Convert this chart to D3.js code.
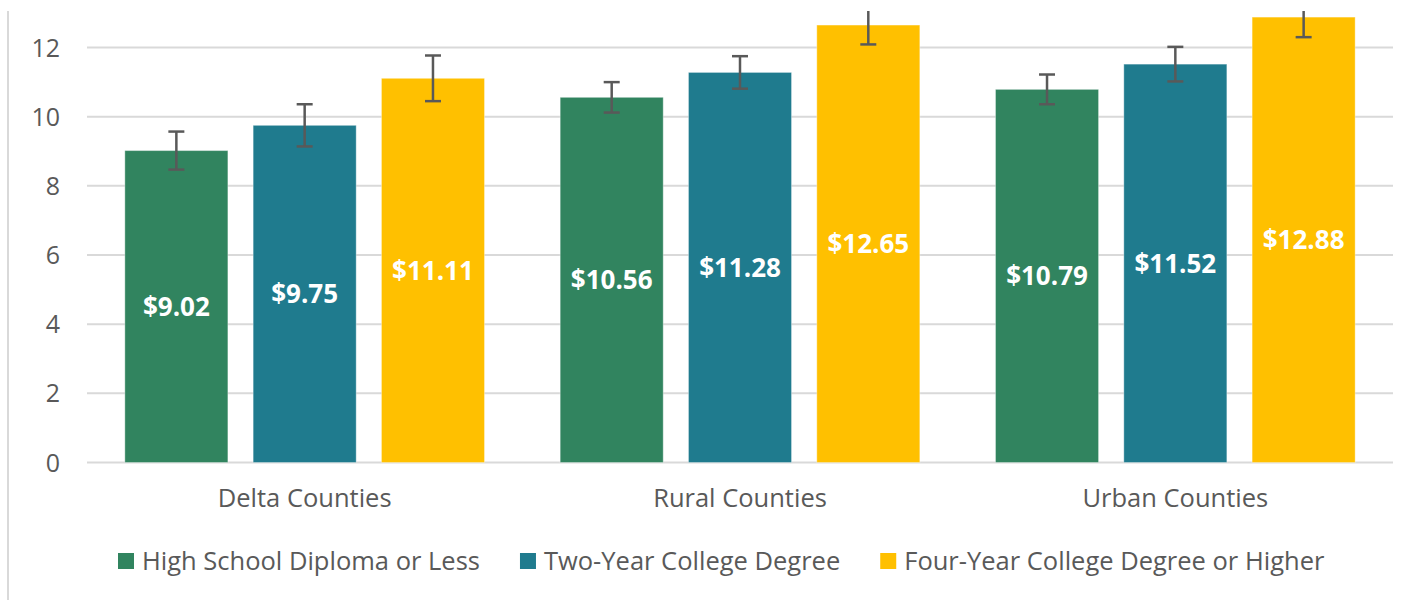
<!DOCTYPE html>
<html>
<head>
<meta charset="utf-8">
<script src="https://cdnjs.cloudflare.com/ajax/libs/d3/7.8.5/d3.min.js"></script>
<style>
  html, body { margin: 0; padding: 0; background: #ffffff; }
  svg { display: block; }
</style>
</head>
<body>
<svg id="chart" width="1421" height="600"></svg>
<script>
// ---- data ----
const categories = ["Delta Counties", "Rural Counties", "Urban Counties"];
const seriesNames = ["High School Diploma or Less", "Two-Year College Degree", "Four-Year College Degree or Higher"];
const highSchool = [9.02, 10.56, 10.79];
const twoYear = [9.75, 11.28, 11.52];
const fourYear = [11.11, 12.65, 12.88];
const highSchoolErr = [0.55, 0.44, 0.43];
const twoYearErr = [0.61, 0.47, 0.50];
const fourYearErr = [0.66, 0.56, 0.58];
const yTicks = [0, 2, 4, 6, 8, 10, 12];
const yMax = 14;

const seriesValues = [highSchool, twoYear, fourYear];
const seriesErrors = [highSchoolErr, twoYearErr, fourYearErr];
const colors = ["#31845F", "#1F7B8E", "#FFC000"];

const svg = d3.select("#chart");
const font = "'Open Sans', 'Noto Sans', sans-serif";
const textColor = "#595959";
const gridColor = "#D9D9D9";

const left = 87, right = 1393, zeroY = 462.5, unit = 34.58;
const y = d3.scaleLinear().domain([0, yMax]).range([zeroY, zeroY - yMax * unit]);
const x0 = d3.scaleBand().domain(categories).range([left, right]).paddingInner(0).paddingOuter(0);
const x1 = d3.scaleBand().domain(seriesNames).range([0, x0.bandwidth()]).paddingInner(0.197).paddingOuter(0.295);

// clip (top of chart is cropped)
svg.append("defs").append("clipPath").attr("id", "plotClip")
  .append("rect").attr("x", 0).attr("y", 11).attr("width", 1421).attr("height", 600);

// outer left border
svg.append("line").attr("x1", 8).attr("x2", 8).attr("y1", 11).attr("y2", 600)
  .attr("stroke", gridColor).attr("stroke-width", 2);

// gridlines
svg.append("g").selectAll("line").data(yTicks).join("line")
  .attr("x1", left).attr("x2", right)
  .attr("y1", d => y(d)).attr("y2", d => y(d))
  .attr("stroke", gridColor).attr("stroke-width", 2);

// y tick labels
svg.append("g").selectAll("text").data(yTicks).join("text")
  .attr("x", 60).attr("y", d => y(d)).attr("dy", "0.36em")
  .attr("text-anchor", "end")
  .attr("font-family", font).attr("font-size", 25).attr("fill", textColor)
  .text(d => d);

// bars
const plot = svg.append("g").attr("clip-path", "url(#plotClip)");
const rows = [];
categories.forEach((c, ci) => {
  seriesNames.forEach((s, si) => {
    rows.push({ cat: c, ser: s, si: si, v: seriesValues[si][ci], e: seriesErrors[si][ci] });
  });
});

plot.selectAll("rect.bar").data(rows).join("rect")
  .attr("class", "bar")
  .attr("x", d => x0(d.cat) + x1(d.ser))
  .attr("width", x1.bandwidth())
  .attr("y", d => y(d.v))
  .attr("height", d => y(0) - y(d.v))
  .attr("fill", d => colors[d.si])
  .attr("stroke", "rgba(255,255,255,0.35)").attr("stroke-width", 1);

// value labels
plot.selectAll("text.val").data(rows).join("text")
  .attr("class", "val")
  .attr("x", d => x0(d.cat) + x1(d.ser) + x1.bandwidth() / 2)
  .attr("y", d => (y(d.v) + y(0)) / 2).attr("dy", "0.36em")
  .attr("text-anchor", "middle")
  .attr("font-family", font).attr("font-weight", "bold").attr("font-size", 26)
  .attr("fill", "#ffffff")
  .text(d => "$" + d.v.toFixed(2));

// error bars
const eg = plot.append("g").attr("stroke", "#595959").attr("stroke-width", 2.5);
rows.forEach(d => {
  const cx = x0(d.cat) + x1(d.ser) + x1.bandwidth() / 2;
  const y1 = y(d.v + d.e), y2 = y(d.v - d.e);
  eg.append("line").attr("x1", cx).attr("x2", cx).attr("y1", y1).attr("y2", y2);
  eg.append("line").attr("x1", cx - 8).attr("x2", cx + 8).attr("y1", y1).attr("y2", y1);
  eg.append("line").attr("x1", cx - 8).attr("x2", cx + 8).attr("y1", y2).attr("y2", y2);
});

// category labels
svg.append("g").selectAll("text").data(categories).join("text")
  .attr("x", d => x0(d) + x0.bandwidth() / 2).attr("y", 498).attr("dy", "0.36em")
  .attr("text-anchor", "middle")
  .attr("font-family", font).attr("font-size", 25.5).attr("fill", textColor)
  .text(d => d);

// legend
const lg = svg.append("g");
let lx = 118;
seriesNames.forEach((s, i) => {
  lg.append("rect").attr("x", lx).attr("y", 553).attr("width", 16).attr("height", 16).attr("fill", colors[i]);
  const t = lg.append("text").attr("x", lx + 24).attr("y", 561).attr("dy", "0.36em")
    .attr("font-family", font).attr("font-size", 25.5).attr("fill", textColor).text(s);
  lx += 24 + t.node().getComputedTextLength() + 40;
});
</script>
</body>
</html>
